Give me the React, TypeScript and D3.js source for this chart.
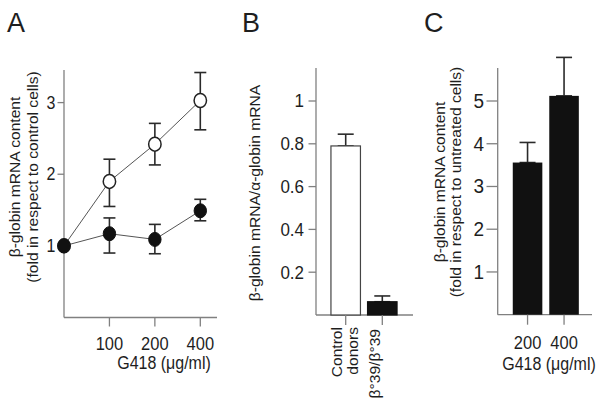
import React from "react";
import * as d3 from "d3";

// ---------- data ----------
const doseLabels = ["0", "100", "200", "400"];
const openMean = [1.0, 1.9, 2.42, 3.03];
const openHi = [1.0, 2.21, 2.71, 3.42];
const openLo = [1.0, 1.55, 2.13, 2.62];
const filledMean = [1.0, 1.17, 1.09, 1.49];
const filledHi = [1.0, 1.39, 1.3, 1.65];
const filledLo = [1.0, 0.9, 0.89, 1.35];
const aTicks = [1, 2, 3];

const bCategories = ["Control donors", "b39/b39"];
const bValues = [0.79, 0.062];
const bErrTop = [0.845, 0.089];
const bTicks = [0.2, 0.4, 0.6, 0.8, 1];
const bTickLabels = ["0.2", "0.4", "0.6", "0.8", "1"];

const cCategories = ["200", "400"];
const cValues = [3.56, 5.12];
const cErrTop = [4.03, 6.02];
const cTicks = [1, 2, 3, 4, 5];

const FONT = "'Liberation Sans', Arial, Helvetica, sans-serif";
const AXIS = "#808080";
const ERR = "#2a2a2a";
const TXT = "#1e1e1e";
const LABEL_FS = 14.2;
const STRETCH = 1.1;

export default function App() {
  // Panel A scales
  const xA = d3.scalePoint<string>().domain(doseLabels).range([64, 200.3]);
  const yA = d3.scaleLinear().domain([0, 3]).range([317.5, 102.6]);
  const aTop = 70;
  const aRight = 217;
  const lineGen = (vals: number[]) =>
    d3
      .line<number>()
      .x((_, i) => xA(doseLabels[i]) as number)
      .y((v) => yA(v))(vals) as string;

  // Panel B scales
  const xB = d3
    .scaleBand<string>()
    .domain(bCategories)
    .range([327.4, 400.6])
    .paddingInner(0.194)
    .paddingOuter(0.097);
  const yB = d3.scaleLinear().domain([0, 1]).range([315, 101]);
  const bLeft = 316;
  const bRight = 413;
  const bTop = 68;

  // Panel C scales
  const xC = d3
    .scaleBand<string>()
    .domain(cCategories)
    .range([509.3, 582.3])
    .paddingInner(0.19)
    .paddingOuter(0.095);
  const yC = d3.scaleLinear().domain([0, 5]).range([314.7, 101]);
  const cLeft = 497.7;
  const cRight = 592;
  const cTop = 68;

  const errBar = (x: number, y1: number, y2: number, hw: number, key: string) => (
    <g key={key} stroke={ERR} strokeWidth={1.6}>
      <line x1={x} x2={x} y1={y1} y2={y2} />
      <line x1={x - hw} x2={x + hw} y1={y1} y2={y1} />
      {y2 !== y1 && <line x1={x - hw} x2={x + hw} y1={y2} y2={y2} />}
    </g>
  );

  // horizontal text, slightly stretched vertically like the reference
  const hText = (
    x: number,
    y: number,
    s: string,
    fs: number,
    anchor: string,
    stretch: number = STRETCH
  ) => (
    <text
      transform={`translate(${x},${y}) scale(1,${stretch})`}
      fontSize={fs}
      textAnchor={anchor}
      fill={TXT}
    >
      {s}
    </text>
  );
  // vertical (rotated) text, stretched along its length
  const vText = (x: number, y: number, s: string, anchor: string) => (
    <text
      transform={`translate(${x},${y}) scale(1,${STRETCH}) rotate(-90)`}
      fontSize={LABEL_FS}
      textAnchor={anchor}
      fill={TXT}
    >
      {s}
    </text>
  );

  return (
    <svg
      width={602}
      height={407}
      style={{ position: "absolute", left: 0, top: 0, background: "#fff" }}
      fontFamily={FONT}
    >
      <rect width={602} height={407} fill="#fff" />
      {/* Panel letters */}
      {hText(7, 32, "A", 27, "start", 1)}
      {hText(242, 32, "B", 27, "start", 1)}
      {hText(424, 32, "C", 27, "start", 1)}

      {/* ---------- Panel A ---------- */}
      <g>
        <line x1={64} x2={64} y1={aTop} y2={yA(0)} stroke={AXIS} strokeWidth={1.3} />
        <line x1={64} x2={aRight} y1={yA(0)} y2={yA(0)} stroke={AXIS} strokeWidth={1.3} />
        {aTicks.map((t) => (
          <g key={t}>
            <line x1={57.5} x2={64} y1={yA(t)} y2={yA(t)} stroke={AXIS} strokeWidth={1.3} />
            {hText(55.5, yA(t) + 6, String(t), 16, "end")}
          </g>
        ))}
        {doseLabels.slice(1).map((d) => (
          <g key={d}>
            <line
              x1={xA(d)}
              x2={xA(d)}
              y1={yA(0)}
              y2={yA(0) + 9}
              stroke={AXIS}
              strokeWidth={1.3}
            />
            {hText(xA(d) as number, 350, d, 16.5, "middle")}
          </g>
        ))}
        {hText(164, 369, "G418 (μg/ml)", 16, "middle")}
        {vText(20, 177, "β-globin mRNA content", "middle")}
        {vText(38, 177, "(fold in respect to control cells)", "middle")}

        <path d={lineGen(openMean)} fill="none" stroke="#555" strokeWidth={1} />
        <path d={lineGen(filledMean)} fill="none" stroke="#555" strokeWidth={1} />
        {doseLabels.map((d, i) =>
          openHi[i] !== openLo[i]
            ? errBar(xA(d) as number, yA(openHi[i]), yA(openLo[i]), 6, "oe" + i)
            : null
        )}
        {doseLabels.map((d, i) =>
          filledHi[i] !== filledLo[i]
            ? errBar(xA(d) as number, yA(filledHi[i]), yA(filledLo[i]), 6, "fe" + i)
            : null
        )}
        {doseLabels.map((d, i) => (
          <ellipse
            key={"o" + i}
            cx={xA(d)}
            cy={yA(openMean[i])}
            rx={6.2}
            ry={7}
            fill="#fff"
            stroke="#222"
            strokeWidth={1.5}
          />
        ))}
        {doseLabels.map((d, i) => (
          <ellipse
            key={"f" + i}
            cx={xA(d)}
            cy={yA(filledMean[i])}
            rx={6.2}
            ry={7}
            fill="#111"
            stroke="#111"
            strokeWidth={1}
          />
        ))}
      </g>

      {/* ---------- Panel B ---------- */}
      <g>
        <line x1={bLeft} x2={bLeft} y1={bTop} y2={yB(0)} stroke={AXIS} strokeWidth={1.3} />
        <line x1={bLeft} x2={bRight} y1={yB(0)} y2={yB(0)} stroke={AXIS} strokeWidth={1.3} />
        {bTicks.map((t, i) => (
          <g key={t}>
            <line x1={308.5} x2={bLeft} y1={yB(t)} y2={yB(t)} stroke={AXIS} strokeWidth={1.3} />
            {hText(304, yB(t) + 6.3, bTickLabels[i], 17, "end")}
          </g>
        ))}
        {bCategories.map((c, i) => {
          const x0 = xB(c) as number;
          const w = xB.bandwidth();
          const cx = x0 + w / 2;
          return (
            <g key={c}>
              {errBar(cx, yB(bErrTop[i]), yB(bValues[i]), 8, "be" + i)}
              <rect
                x={x0}
                y={yB(bValues[i])}
                width={w}
                height={yB(0) - yB(bValues[i])}
                fill={i === 0 ? "#fff" : "#111"}
                stroke={i === 0 ? "#444" : "#111"}
                strokeWidth={1.2}
              />
              <line
                x1={cx}
                x2={cx}
                y1={yB(0)}
                y2={yB(0) + 10}
                stroke={AXIS}
                strokeWidth={1.3}
              />
            </g>
          );
        })}
        {vText((xB(bCategories[0]) as number) + xB.bandwidth() / 2 - 3.5, 327, "Control", "end")}
        {vText((xB(bCategories[0]) as number) + xB.bandwidth() / 2 + 12, 327, "donors", "end")}
        {vText((xB(bCategories[1]) as number) + xB.bandwidth() / 2 - 2, 329, "β°39/β°39", "end")}
        {vText(260, 193, "β-globin mRNA/α-globin mRNA", "middle")}
      </g>

      {/* ---------- Panel C ---------- */}
      <g>
        <line x1={cLeft} x2={cLeft} y1={cTop} y2={yC(0)} stroke={AXIS} strokeWidth={1.3} />
        <line x1={cLeft} x2={cRight} y1={yC(0)} y2={yC(0)} stroke={AXIS} strokeWidth={1.3} />
        {cTicks.map((t) => (
          <g key={t}>
            <line x1={486.5} x2={cLeft} y1={yC(t)} y2={yC(t)} stroke={AXIS} strokeWidth={1.3} />
            {hText(484, yC(t) + 7, String(t), 19, "end")}
          </g>
        ))}
        {cCategories.map((c, i) => {
          const x0 = xC(c) as number;
          const w = xC.bandwidth();
          const cx = x0 + w / 2;
          return (
            <g key={c}>
              {errBar(cx, yC(cErrTop[i]), yC(cValues[i]), 8, "ce" + i)}
              <rect
                x={x0}
                y={yC(cValues[i])}
                width={w}
                height={yC(0) - yC(cValues[i])}
                fill="#111"
              />
              <line
                x1={cx}
                x2={cx}
                y1={yC(0)}
                y2={yC(0) + 10}
                stroke={AXIS}
                strokeWidth={1.3}
              />
              {hText(cx, 349, c, 16.5, "middle")}
            </g>
          );
        })}
        {hText(549, 370, "G418 (μg/ml)", 16, "middle")}
        {vText(445, 182, "β-globin mRNA content", "middle")}
        {vText(461, 182, "(fold in respect to untreated cells)", "middle")}
      </g>
    </svg>
  );
}
